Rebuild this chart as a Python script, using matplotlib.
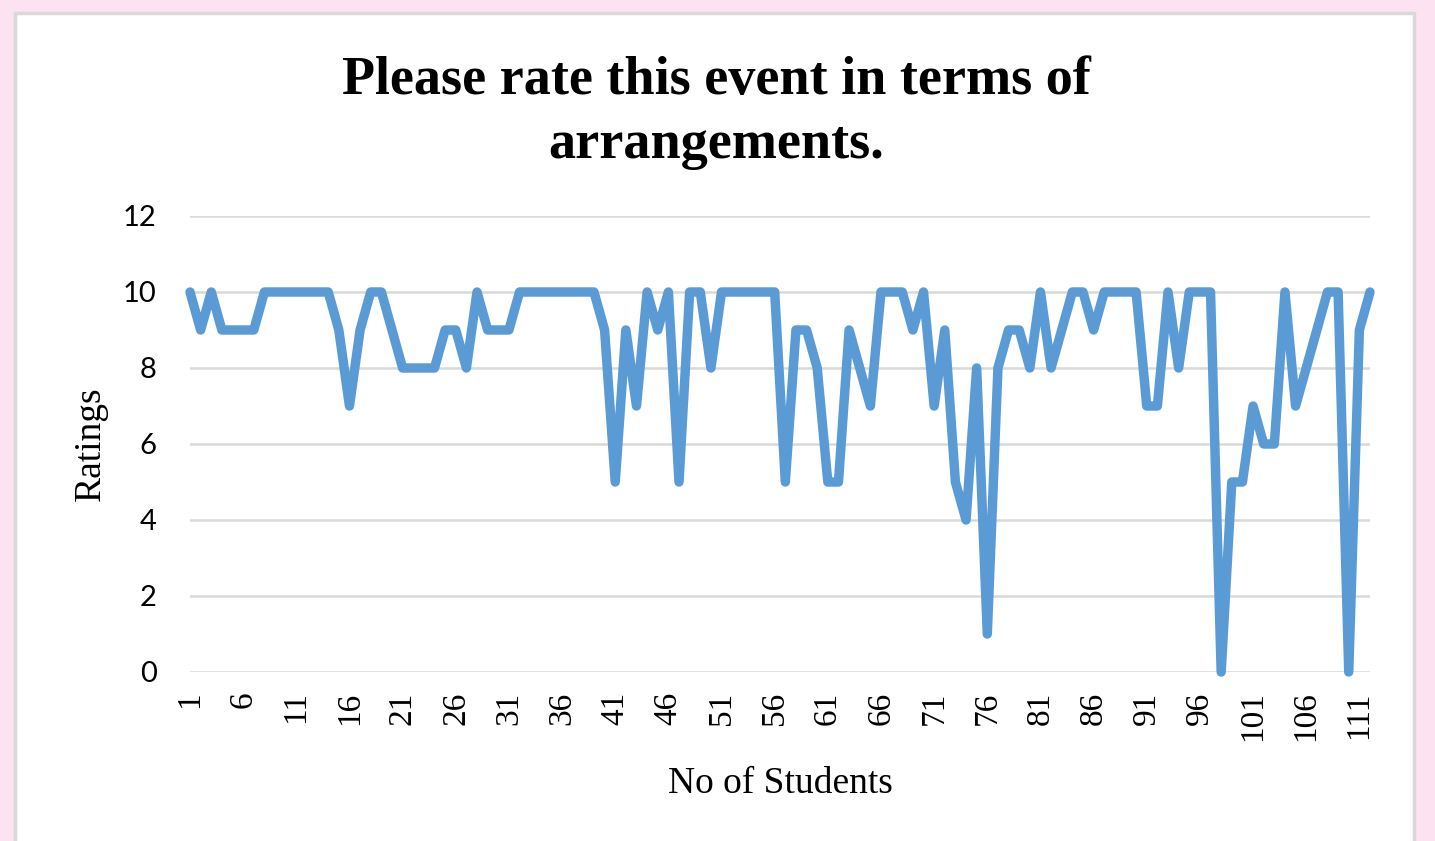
import matplotlib
matplotlib.use("Agg")
import matplotlib.pyplot as plt
from matplotlib.patches import Rectangle

# ratings given by each student (1..112)
students = list(range(1, 113))
ratings = [10, 9, 10, 9, 9, 9, 9, 10, 10, 10,
           10, 10, 10, 10, 9, 7, 9, 10, 10, 9,
           8, 8, 8, 8, 9, 9, 8, 10, 9, 9,
           9, 10, 10, 10, 10, 10, 10, 10, 10, 9,
           5, 9, 7, 10, 9, 10, 5, 10, 10, 8,
           10, 10, 10, 10, 10, 10, 5, 9, 9, 8,
           5, 5, 9, 8, 7, 10, 10, 10, 9, 10,
           7, 9, 5, 4, 8, 1, 8, 9, 9, 8,
           10, 8, 9, 10, 10, 9, 10, 10, 10, 10,
           7, 7, 10, 8, 10, 10, 10, 0, 5, 5,
           7, 6, 6, 10, 7, 8, 9, 10, 10, 0,
           9, 10]
x_ticks = list(range(1, 112, 5))
y_ticks = [0, 2, 4, 6, 8, 10, 12]

title = "Please rate this event in terms of\narrangements."
xlabel = "No of Students"
ylabel = "Ratings"

serif = "Liberation Serif"

fig = plt.figure(figsize=(14.35, 8.41), dpi=100)
fig.patch.set_facecolor("#FDE3F1")

# white chart area with grey border
box = Rectangle((15 / 1435, -0.1), (1414 - 15) / 1435, (1 - 13 / 841) + 0.1,
                transform=fig.transFigure, facecolor="white",
                edgecolor="#D9D9D9", linewidth=2.5, zorder=-1)
fig.patches.append(box)

ax = fig.add_axes([190 / 1435, 1 - 672 / 841, (1370 - 190) / 1435, (672 - 216) / 841])
ax.set_zorder(2)
ax.set_facecolor("none")

ax.plot(students, ratings, color="#5B9BD5", linewidth=6.8,
        solid_joinstyle="round", solid_capstyle="round", zorder=3, clip_on=False)

ax.set_xlim(1, 112)
ax.set_ylim(0, 12)
ax.set_yticks(y_ticks)
ax.set_xticks(x_ticks)
ax.set_xticklabels([str(t) for t in x_ticks], rotation=90, fontfamily=serif, fontsize=24)
ax.set_yticklabels([str(t) for t in y_ticks], fontfamily="Lato", fontsize=21)
ax.tick_params(axis="both", length=0)
ax.tick_params(axis="x", pad=14)
ax.tick_params(axis="y", pad=24)

ax.grid(axis="y", color="#D9D9D9", linewidth=1.8)
ax.set_axisbelow(True)
for s in ax.spines.values():
    s.set_visible(False)

ax.set_xlabel(xlabel, fontfamily=serif, fontsize=27, labelpad=18)
ax.set_ylabel(ylabel, fontfamily=serif, fontsize=27, labelpad=11)

fig.text(716 / 1435, 1 - 113 / 841, title, ha="center", va="center",
         fontfamily=serif, fontweight="bold", fontsize=39, linespacing=1.38)

fig.savefig("out.png", dpi=100, facecolor=fig.get_facecolor())
